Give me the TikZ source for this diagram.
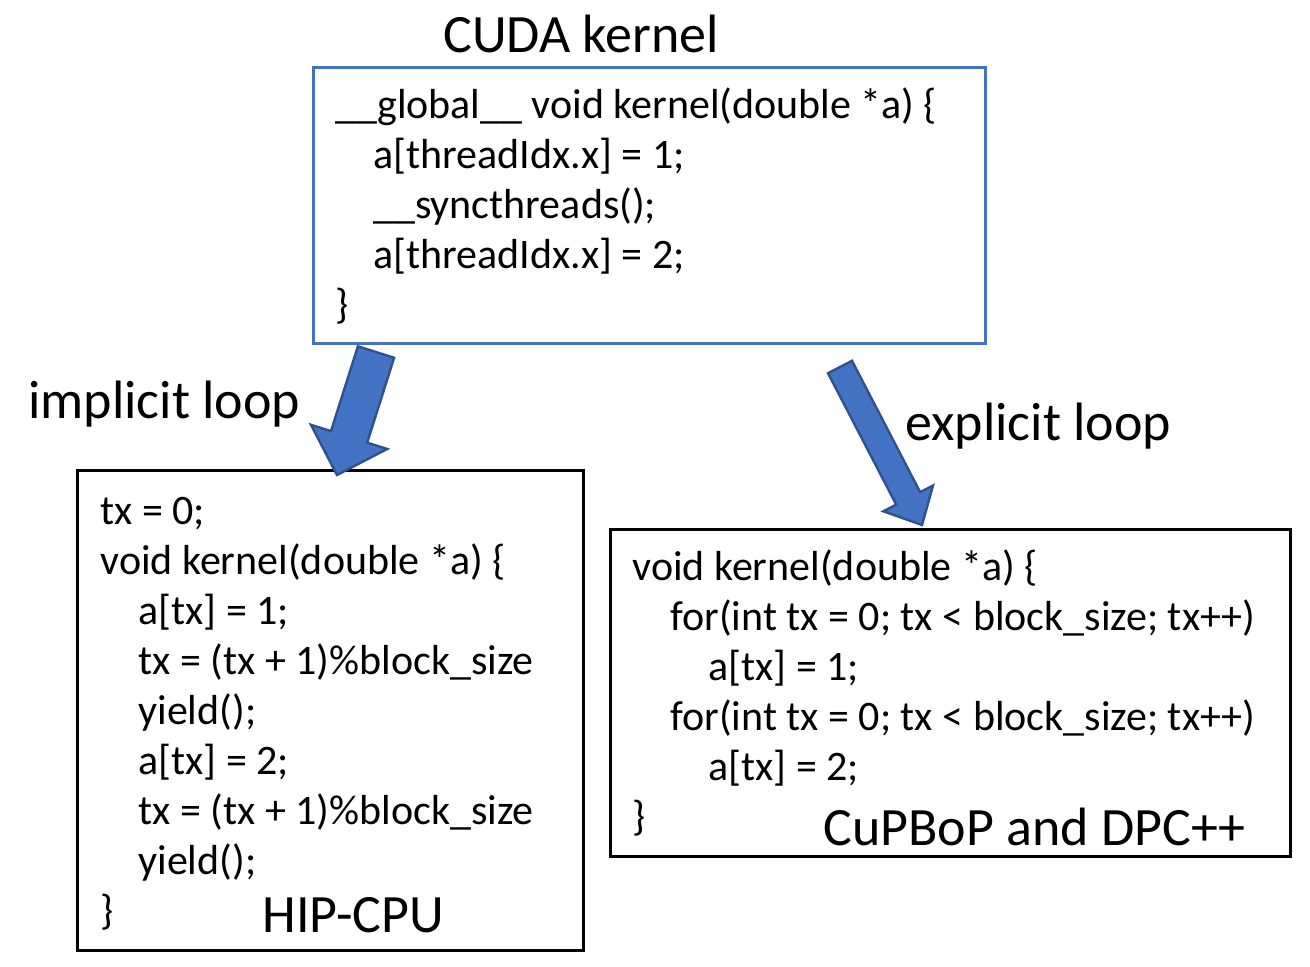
\documentclass[tikz,border=0pt]{standalone}
\usepackage{fontspec}
\setmainfont{Carlito}
\usetikzlibrary{calc,fit}
\definecolor{cudablue}{HTML}{4472C4}
\definecolor{arrowedge}{HTML}{2F528F}
\tikzset{
    kbox/.style={draw, line width=1.5pt, inner sep=0pt},
    code/.style={anchor=base west, align=left, inner sep=0pt, font=\fontsize{21}{25}\selectfont},
    lbl/.style={anchor=base west, inner sep=0pt, font=\fontsize{27}{32}\selectfont},
    fatarrow/.style={fill=cudablue, draw=arrowedge, line width=1.2pt, line join=miter}
}
\newcommand{\ind}{\hspace*{19pt}}
% block arrow: tail, tip, shaft half width, head length, head half width
\newcommand{\blockarrow}[5]{%
    \coordinate (#1-h) at ($(#2)!#4!(#1)$);
    \draw[fatarrow] ($(#1)!#3!90:(#2)$) -- ($(#1-h)!#3!90:(#2)$) -- ($(#1-h)!#5!90:(#2)$)
        -- (#2) -- ($(#1-h)!#5!-90:(#2)$) -- ($(#1-h)!#3!-90:(#2)$) -- ($(#1)!#3!-90:(#2)$) -- cycle;
}
\begin{document}
\begin{tikzpicture}[x=0.5pt, y=-0.5pt]
    \useasboundingbox (0,0) rectangle (1310,966);
    % boxes
    \node (cuda) [kbox, draw=cudablue, fit={(313,67) (985,343)}] {};
    \node (hip) [kbox, fit={(77,470) (583,950)}] {};
    \node (cupbop) [kbox, fit={(610,529) (1290,856)}] {};
    % code (placed at the baseline of its last line)
    \node (cudacode) [code] at (335,318) {\_\_global\_\_ void kernel(double *a) \{\\
        \ind a[threadIdx.x] = 1;\\
        \ind \_\_syncthreads();\\
        \ind a[threadIdx.x] = 2;\\
        \}};
    \node (hipcode) [code] at (100,924) {tx = 0;\\
        void kernel(double *a) \{\\
        \ind a[tx] = 1;\\
        \ind tx = (tx + 1)\%block\_size\\
        \ind yield();\\
        \ind a[tx] = 2;\\
        \ind tx = (tx + 1)\%block\_size\\
        \ind yield();\\
        \}};
    \node (cupbopcode) [code] at (632,830) {void kernel(double *a) \{\\
        \ind for(int tx = 0; tx < block\_size; tx++)\\
        \ind\ind a[tx] = 1;\\
        \ind for(int tx = 0; tx < block\_size; tx++)\\
        \ind\ind a[tx] = 2;\\
        \}};
    % labels
    \node (cudalbl) [lbl] at (443,52) {CUDA kernel};
    \node (impllbl) [lbl] at (28,418) {implicit loop};
    \node (expllbl) [lbl] at (905,440) {explicit loop};
    \node (hiplbl) [lbl] at (262,932) {HIP-CPU};
    \node (cupboplbl) [lbl] at (823,845) {CuPBoP and DPC++};
    % arrows
    \coordinate (impl) at (376,352);
    \coordinate (impltip) at (337,475);
    \coordinate (expl) at (840,367);
    \coordinate (expltip) at (922,525);
    \blockarrow{impl}{impltip}{9.5pt}{20pt}{20pt}
    \blockarrow{expl}{expltip}{6.75pt}{15pt}{14pt}
\end{tikzpicture}
\end{document}
